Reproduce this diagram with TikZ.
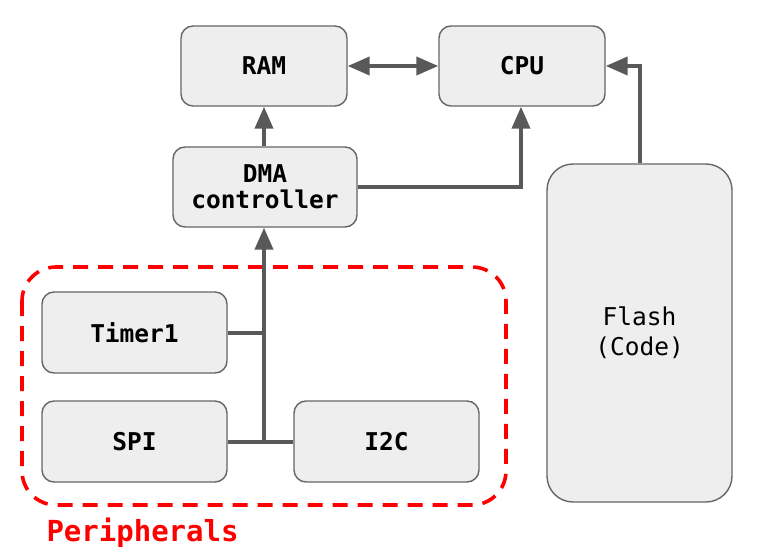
\documentclass[tikz,border=0pt]{standalone}
\usepackage{fontspec}
\setmonofont{DejaVu Sans Mono}
\usetikzlibrary{arrows.meta}
\definecolor{boxfill}{HTML}{EEEEEE}
\definecolor{boxdraw}{HTML}{666666}
\definecolor{wire}{HTML}{595959}
\definecolor{perired}{HTML}{FF0000}
\tikzset{
  blk/.style={draw=boxdraw, fill=boxfill, line width=1.4pt, rounded corners=12pt,
    inner sep=0pt, font=\fontsize{24.5}{26}\selectfont\ttfamily\bfseries, align=center},
  wireline/.style={draw=wire, line width=4pt},
  wirearrow/.style={wireline, -{Triangle[length=22pt,width=18pt]}},
}
\begin{document}
\begin{tikzpicture}[x=1pt,y=-1pt]
\useasboundingbox (0,0) rectangle (757,556);
% dashed peripheral region
\draw[perired, line width=3.6pt, dash pattern=on 15pt off 10pt, rounded corners=34pt]
  (22,267) rectangle (506,505);
\node[anchor=west, text=perired, font=\fontsize{29}{30}\selectfont\ttfamily\bfseries] (perlab) at (43,533) {Peripherals};
% blocks
\node[blk, minimum width=166pt, minimum height=80pt] (ram) at (264,66) {RAM};
\node[blk, minimum width=166pt, minimum height=80pt] (cpu) at (522,66) {CPU};
\node[blk, minimum width=184pt, minimum height=80pt] (dma) at (265,187) {DMA\\controller};
\node[blk, minimum width=185pt, minimum height=81pt] (timer) at (134.5,332.5) {Timer1};
\node[blk, minimum width=185pt, minimum height=81pt] (spi) at (134.5,441.5) {SPI};
\node[blk, minimum width=185pt, minimum height=81pt] (i2c) at (386.5,441.5) {I2C};
\node[blk, minimum width=185pt, minimum height=338pt, rounded corners=26pt,
  font=\fontsize{24.5}{30}\selectfont\ttfamily] (flash) at (639.5,333) {Flash\\(Code)};
% connectors
\draw[wireline, {Triangle[length=22pt,width=18pt]}-{Triangle[length=22pt,width=18pt]}] (ram.east) -- (cpu.west);
\draw[wirearrow] (dma.north -| ram.south) -- (ram.south);
\coordinate (dmacpu) at (dma.east -| 521,0);
\draw[wirearrow] (dma.east) -- (dmacpu) -- (cpu.south -| dmacpu);
\coordinate (flashtop) at (flash.north);
\draw[wirearrow] (flash.north) -- (flashtop |- cpu.east) -- (cpu.east);
\coordinate (busbot) at (264,441.5);
\coordinate (bustimer) at (264,332.5);
\draw[wirearrow] (busbot) -- (dma.south -| busbot);
\draw[wireline] (timer.east) -- (bustimer);
\draw[wireline] (spi.east) -- (i2c.west);
\end{tikzpicture}
\end{document}
